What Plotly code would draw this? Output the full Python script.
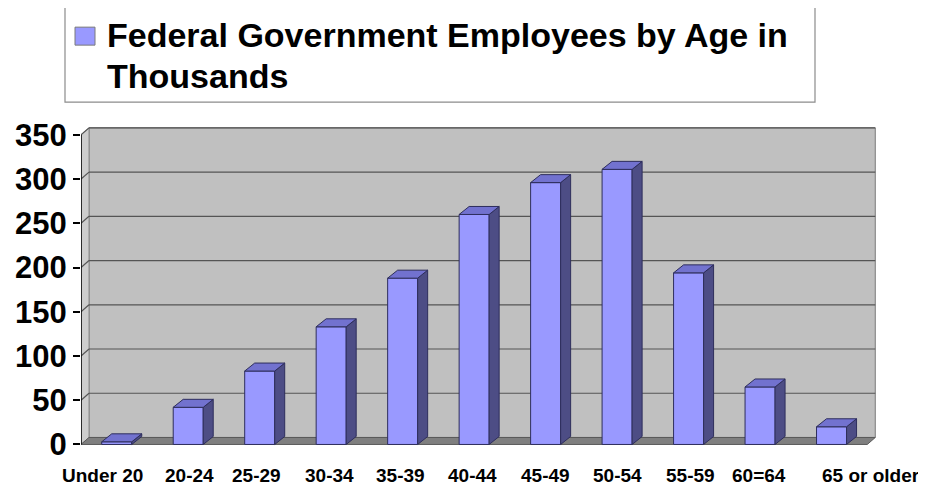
import plotly.graph_objects as go

# ---- data ----
categories = ["Under 20", "20-24", "25-29", "30-34", "35-39", "40-44",
              "45-49", "50-54", "55-59", "60=64", "65 or older"]
values = [3, 42, 83, 133, 188, 260, 296, 311, 194, 65, 20]
y_ticks = [0, 50, 100, 150, 200, 250, 300, 350]
series_name = "Federal Government Employees by Age in Thousands"

# label horizontal nudges (px), as laid out in the original
label_dx = [-14, 1, -3, -2, -2, -2, 0, 0, 2, -1, 39]

# ---- layout geometry (page has an 8px body margin) ----
OFF = 8
PAGE_W, PAGE_H = 926, 489
W, H = PAGE_W - OFF, PAGE_H - OFF


def fx(px):  # page pixel -> figure pixel
    return px - OFF


ML = fx(81)
MR = W - fx(878)
MT = fx(126)
MB = H - fx(448.5)
X0, X1 = -0.5, 10.65
Y0, Y1 = -4, 360
pw = W - ML - MR
ph = H - MT - MB
pxx = pw / (X1 - X0)
pxy = ph / (Y1 - Y0)


def dxu(px):
    return px / pxx


def dyu(px):
    return px / pxy


def paper_x(px):
    return (fx(px) - ML) / pw


def paper_y(py):
    return (H - MB - fx(py)) / ph


WDX, WDY = dxu(8), dyu(7)
BDX, BDY = dxu(10), dyu(8)
BAR_W = 0.42
XR = len(categories) - 0.5
YMAX = y_ticks[-1]
FONT = "Liberation Sans, Arial, sans-serif"

xs = list(range(len(categories)))

fig = go.Figure()
fig.add_trace(go.Bar(
    x=xs, y=values, width=BAR_W, name=series_name,
    marker=dict(color="#9999FF", line=dict(color="#2E2E5C", width=1)),
    showlegend=False, hovertext=categories, hoverinfo="text+y",
))

shapes = []
# back wall
shapes.append(dict(type="rect", xref="x", yref="y",
                   x0=X0 + WDX, x1=XR + WDX, y0=WDY, y1=YMAX + WDY,
                   fillcolor="#C0C0C0", line=dict(color="#7A7A7A", width=1),
                   layer="below"))
# side wall
shapes.append(dict(type="path", xref="x", yref="y",
                   path=f"M{X0},0 L{X0 + WDX},{WDY} L{X0 + WDX},{YMAX + WDY} L{X0},{YMAX} Z",
                   fillcolor="#CDCDCD", line=dict(color="#8A8A8A", width=1),
                   layer="below"))
# floor
shapes.append(dict(type="path", xref="x", yref="y",
                   path=f"M{X0},0 L{XR},0 L{XR + WDX},{WDY} L{X0 + WDX},{WDY} Z",
                   fillcolor="#7F7F7F", line=dict(color="#5A5A5A", width=1),
                   layer="below"))
# gridlines
for v in y_ticks[1:]:
    shapes.append(dict(type="line", xref="x", yref="y",
                       x0=X0 + WDX, x1=XR + WDX, y0=v + WDY, y1=v + WDY,
                       line=dict(color="#555555", width=1.2), layer="below"))
    shapes.append(dict(type="line", xref="x", yref="y",
                       x0=X0, x1=X0 + WDX, y0=v, y1=v + WDY,
                       line=dict(color="#555555", width=1.2), layer="below"))
# axis line
shapes.append(dict(type="line", xref="x", yref="y",
                   x0=X0, x1=X0, y0=0, y1=YMAX,
                   line=dict(color="black", width=1.5), layer="above"))

# 3D bar faces
for x, v in zip(xs, values):
    xl, xr = x - BAR_W / 2, x + BAR_W / 2
    shapes.append(dict(type="path", xref="x", yref="y",
                       path=f"M{xr},0 L{xr + BDX},{BDY} L{xr + BDX},{v + BDY} L{xr},{v} Z",
                       fillcolor="#4D4D85", line=dict(color="#2E2E5C", width=1),
                       layer="above"))
    shapes.append(dict(type="path", xref="x", yref="y",
                       path=f"M{xl},{v} L{xr},{v} L{xr + BDX},{v + BDY} L{xl + BDX},{v + BDY} Z",
                       fillcolor="#7272CF", line=dict(color="#2E2E5C", width=1),
                       layer="above"))

# legend box
shapes.append(dict(type="rect", xref="paper", yref="paper",
                   x0=paper_x(65), x1=paper_x(815), y0=paper_y(102), y1=paper_y(7),
                   fillcolor="white", line=dict(color="#8C8C8C", width=1.2)))
shapes.append(dict(type="rect", xref="paper", yref="paper",
                   x0=paper_x(75), x1=paper_x(95), y0=paper_y(45), y1=paper_y(27),
                   fillcolor="#9999FF", line=dict(color="#7A7A7A", width=1)))

name_lines = ["Federal Government Employees by Age in", "Thousands"]
annotations = []
for i, line in enumerate(name_lines):
    annotations.append(dict(xref="paper", yref="paper",
                            x=paper_x(105), y=paper_y(35 + 41 * i),
                            xanchor="left", yanchor="middle", showarrow=False,
                            text=line,
                            font=dict(family=FONT, size=34, color="black", weight="bold")))

# category labels
for x, lab, dx in zip(xs, categories, label_dx):
    annotations.append(dict(xref="x", yref="paper", x=x, y=paper_y(476),
                            xanchor="center", yanchor="middle", showarrow=False,
                            xshift=dx, text=lab,
                            font=dict(family=FONT, size=19, color="black", weight="bold")))

fig.update_layout(
    width=W, height=H,
    margin=dict(l=ML, r=MR, t=MT, b=MB, pad=0, autoexpand=False),
    paper_bgcolor="white", plot_bgcolor="white",
    shapes=shapes, annotations=annotations,
    xaxis=dict(range=[X0, X1], tickvals=xs, showticklabels=False,
               showgrid=False, zeroline=False, showline=False, ticks="",
               automargin=False, fixedrange=True),
    yaxis=dict(range=[Y0, Y1], tickvals=y_ticks, showgrid=False, zeroline=False,
               showline=False, ticks="outside", ticklen=7, tickwidth=1.5,
               tickcolor="black", automargin=False, fixedrange=True,
               tickfont=dict(family=FONT, size=31, color="black", weight="bold")),
    showlegend=False,
)

fig.write_html("out.html")
